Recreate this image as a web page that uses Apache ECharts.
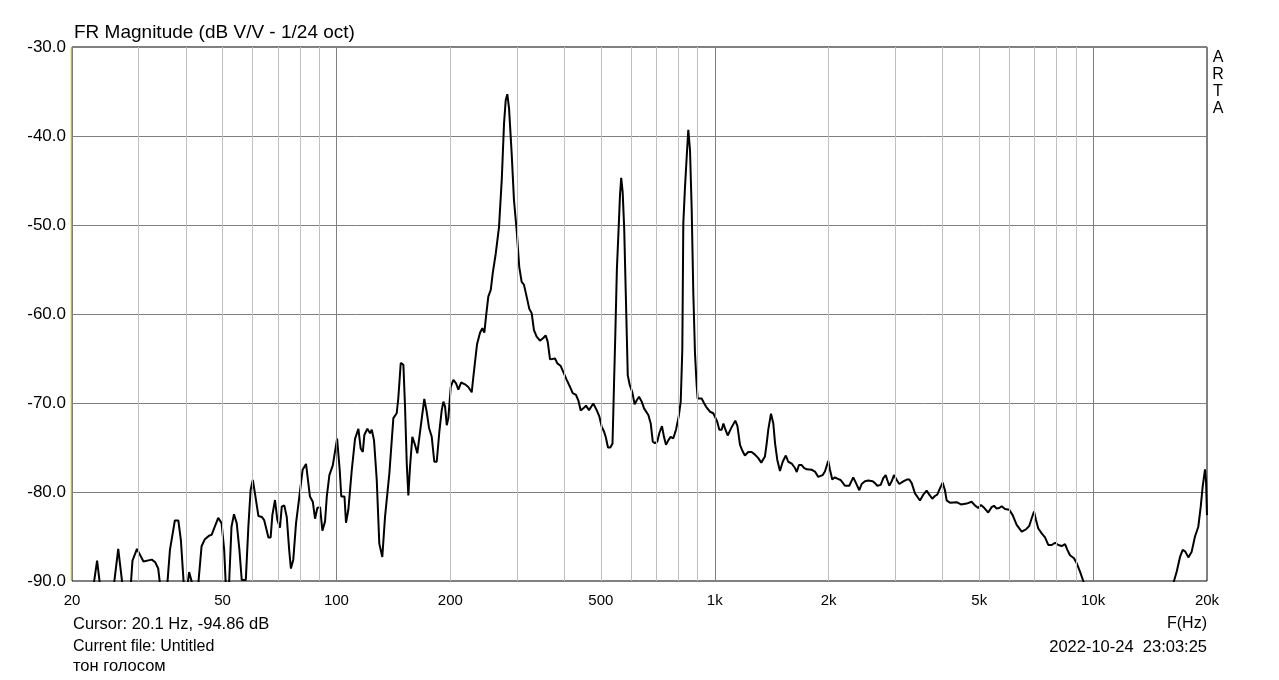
<!DOCTYPE html>
<html>
<head>
<meta charset="utf-8">
<script src="https://cdn.jsdelivr.net/npm/echarts@6/dist/echarts.min.js"></script>
<style>
html,body{margin:0;padding:0;background:#fff;}
#chart{width:1279px;height:680px;}
</style>
</head>
<body>
<div id="chart"></div>
<script>
// ---- data ----
const freqHz = [
20.0, 21.6, 22.8, 23.3, 23.8, 24.4, 25.8, 26.5, 27.2, 27.8, 28.6, 28.9, 29.7, 30.9, 32.5, 33.2, 33.8, 34.2, 35.0, 35.7,
36.3, 37.4, 38.2, 38.8, 39.5, 40.1, 40.8, 41.7, 42.5, 43.1, 44.0, 44.9, 46.1, 46.8, 48.7, 49.7, 50.5, 51.0, 51.4, 52.0,
52.8, 53.6, 54.5, 55.4, 56.2, 57.6, 58.5, 59.3, 60.1, 60.9, 62.2, 63.5, 64.4, 66.1, 67.0, 67.7, 68.8, 69.8, 70.9, 71.7,
72.8, 73.9, 75.0, 75.8, 76.9, 78.2, 79.8, 81.4, 83.1, 85.1, 86.6, 87.8, 89.0, 90.5, 91.8, 93.3, 94.3, 95.8, 97.8, 100.4,
102, 103, 105, 106, 107.5, 109.8, 112, 114.3, 115.9, 117.4, 118.5, 120.7, 122.7, 124, 125.7, 127.8, 129.8, 132.2, 134.4, 138,
141.4, 144.3, 145.7, 147.9, 150.3, 151.8, 153.4, 154.9, 156.5, 158.7, 161.3, 163.6, 167, 170.7, 173.2, 175.7, 178.6, 181.4, 184.1, 187.1,
189.8, 191.7, 193.7, 195.7, 197.6, 200.5, 203.7, 207.1, 210, 213.5, 218.7, 223.1, 227.8, 230.1, 232.4, 235.3, 239.6, 243, 246, 248.5,
252, 255.8, 258.9, 263.7, 269, 273.5, 277.3, 280.2, 282.9, 285.9, 290.5, 294.6, 299.5, 304.2, 308.7, 313, 318.2, 323.3, 328.1, 332.7,
338.2, 345.1, 352.1, 357.3, 361.7, 366.9, 378.2, 383.6, 391.6, 399.5, 406.1, 414.4, 421.2, 429.8, 435.8, 442.2, 449.3, 456.7, 465.1, 477.4,
487.4, 495.2, 502.4, 509.5, 514.8, 522.1, 529.5, 536.6, 539.2, 541.5, 545.8, 551.1, 557.5, 561.6, 565.8, 570.9, 576.2, 581.8, 588.9, 595.4,
605.5, 614, 622, 630.7, 641.2, 650.2, 667.4, 677.2, 685.6, 694.9, 704.7, 713.3, 725.1, 734, 743.1, 753.5, 764.5, 776.7, 789.8, 802.9,
812.8, 820.7, 825.7, 834.3, 843, 851.2, 860.1, 869, 877.6, 886.5, 895.6, 901.1, 923.3, 936.4, 947.8, 971.2, 990.9, 1001, 1015, 1028,
1043, 1054, 1067, 1082, 1104, 1133, 1148, 1166, 1184, 1201, 1226, 1252, 1277, 1303, 1327, 1357, 1372, 1385, 1408, 1428,
1443, 1463, 1487, 1512, 1541, 1564, 1597, 1629, 1647, 1669, 1697, 1721, 1749, 1803, 1840, 1877, 1928, 1955, 1995, 2016,
2044, 2078, 2107, 2151, 2178, 2208, 2267, 2323, 2362, 2410, 2445, 2494, 2546, 2615, 2651, 2689, 2745, 2789, 2830, 2857,
2892, 2935, 2976, 3026, 3074, 3150, 3216, 3267, 3315, 3382, 3486, 3557, 3631, 3689, 3757, 3819, 3873, 3937, 4002, 4059,
4101, 4184, 4358, 4474, 4631, 4774, 4871, 4970, 5052, 5145, 5282, 5392, 5468, 5558, 5647, 5732, 5849, 6004, 6129, 6280,
6475, 6645, 6781, 6881, 6979, 7064, 7164, 7314, 7462, 7613, 7774, 7932, 8093, 8262, 8430, 8549, 8688, 8902, 9049, 9233,
9420, 9800, 11070, 13290, 15490, 16360, 16630, 16970, 17250, 17530, 17850, 18220, 18590, 18970, 19250, 19480, 19760, 19880, 20000
];
const levelDb = [
-94.9, -97, -90.5, -87.7, -91, -95, -90.5, -86.4, -90.5, -94, -90.5, -87.7, -86.4, -87.8, -87.6, -87.9, -88.6, -90.5, -94, -90.5,
-86.5, -83.2, -83.2, -85.4, -90.5, -91.5, -89.0, -90.5, -93, -90.5, -86.1, -85.3, -84.9, -84.8, -82.9, -83.5, -86.5, -90.5, -93, -90.5,
-83.9, -82.5, -83.5, -86.5, -89.9, -89.9, -83.9, -79.8, -78.65, -80.15, -82.7, -82.8, -83.15, -85.1, -85.1, -82.6, -80.9, -83.15, -84.0, -81.65,
-81.5, -82.8, -86.5, -88.6, -87.6, -83.5, -80.5, -77.5, -76.85, -80.5, -81.1, -83.0, -81.8, -81.7, -84.35, -83.3, -80.5, -78.1, -77.0, -74.0,
-77.5, -80.5, -80.5, -83.45, -82.0, -77.5, -74.0, -72.9, -75.1, -75.5, -73.6, -72.9, -73.4, -73.0, -74.2, -78.65, -85.8, -87.3, -82.8, -77.9,
-71.7, -71.15, -69.5, -65.5, -65.7, -70.4, -76.8, -80.4, -77.15, -73.8, -74.7, -75.65, -72.65, -69.55, -71.0, -72.8, -73.8, -76.6, -76.6, -73.2,
-70.8, -69.85, -70.4, -72.5, -71.7, -68.2, -67.4, -67.8, -68.5, -67.7, -67.9, -68.2, -68.8, -67.05, -65.4, -63.4, -62.1, -61.6, -62.1, -60.3,
-58.05, -57.3, -55.4, -53.2, -50.2, -44.9, -38.6, -35.95, -35.3, -36.9, -41.95, -47.2, -50.6, -54.7, -56.4, -56.7, -58.05, -59.4, -59.9, -61.8,
-62.55, -63.0, -62.7, -62.4, -63.1, -65.1, -65.0, -65.55, -65.85, -66.7, -67.4, -68.2, -68.9, -69.1, -69.7, -70.85, -70.6, -70.3, -70.8, -70.05,
-70.8, -71.5, -72.65, -73.2, -73.8, -75.0, -75.0, -74.55, -71.15, -68.0, -62.4, -55.0, -50.0, -46.7, -44.7, -46.3, -50.4, -57.7, -66.9, -67.9,
-68.8, -70.15, -69.7, -69.3, -69.85, -70.6, -71.35, -72.3, -74.35, -74.5, -74.35, -73.4, -72.6, -73.8, -74.7, -74.2, -73.8, -73.97, -73.0, -71.5,
-69.85, -64.0, -49.8, -45.7, -42.3, -39.3, -41.6, -48.3, -57.7, -64.4, -68.0, -69.5, -69.5, -70.0, -70.4, -70.98, -71.15, -71.3, -72.1, -73.0,
-73.0, -72.3, -73.0, -73.65, -72.85, -71.98, -72.6, -74.7, -75.4, -75.9, -75.5, -75.5, -75.8, -76.2, -76.7, -76.0, -74.5, -73.0, -71.2, -72.3,
-74.5, -76.4, -77.65, -76.6, -75.9, -76.6, -76.8, -77.3, -77.75, -76.97, -76.97, -77.3, -77.45, -77.5, -77.7, -78.3, -78.1, -77.7, -76.5, -77.5,
-78.6, -78.35, -78.5, -78.65, -78.95, -79.3, -79.3, -78.35, -79.0, -79.8, -79.1, -78.8, -78.7, -78.8, -79.0, -79.3, -79.2, -78.45, -78.1, -78.65,
-79.3, -78.8, -78.1, -78.65, -79.1, -78.8, -78.6, -78.6, -79.0, -80.15, -80.95, -80.3, -79.85, -80.3, -80.75, -80.45, -80.3, -79.6, -78.95, -79.8,
-80.95, -81.2, -81.15, -81.4, -81.3, -81.1, -81.5, -81.8, -81.45, -81.75, -82.3, -81.7, -81.55, -81.85, -81.8, -81.6, -81.9, -82.0, -82.6, -83.7,
-84.45, -84.2, -83.8, -82.95, -82.2, -83.15, -84.1, -84.65, -85.1, -85.95, -85.95, -85.7, -85.95, -86.07, -85.85, -86.5, -87.1, -87.45, -88.0, -88.95,
-90.0, -92, -95, -97, -94, -90.0, -88.95, -87.3, -86.5, -86.7, -87.35, -86.7, -85.0, -83.9, -81.65, -79.4, -77.45, -78.65, -82.6
];
const xTickHz = [20, 50, 100, 200, 500, 1000, 2000, 5000, 10000, 20000];
const xTickLabels = ['20', '50', '100', '200', '500', '1k', '2k', '5k', '10k', '20k'];
const minorGridHz = [30, 40, 50, 60, 70, 80, 90, 200, 300, 400, 500, 600, 700, 800, 900,
  2000, 3000, 4000, 5000, 6000, 7000, 8000, 9000];
const majorGridHz = [100, 1000, 10000];

const titleText = 'FR Magnitude (dB V/V - 1/24 oct)';
const cursorText = 'Cursor: 20.1 Hz, -94.86 dB';
const fileText = 'Current file: Untitled';
const noteText = 'тон голосом';
const dateText = '2022-10-24  23:03:25';
const xAxisName = 'F(Hz)';
const brandText = 'A\nR\nT\nA';

// ---- chart ----
const FONT = 'Liberation Sans, Arial, sans-serif';
const curve = freqHz.map((f, i) => [f, levelDb[i]]);
const chart = echarts.init(document.getElementById('chart'), null, {renderer: 'canvas'});

function gridSeries(list, color) {
  return {
    type: 'line', data: [], silent: true, z: 1,
    markLine: {
      silent: true, symbol: ['none', 'none'], animation: false,
      label: {show: false},
      lineStyle: {color: color, type: 'solid', width: 1},
      emphasis: {disabled: true},
      data: list.map(v => ({xAxis: v}))
    }
  };
}

chart.setOption({
  animation: false,
  backgroundColor: '#ffffff',
  grid: {left: 72, top: 47, width: 1135, height: 534, show: true,
         borderColor: '#000000', borderWidth: 1, backgroundColor: '#ffffff'},
  xAxis: {
    type: 'log', logBase: 10, min: 20, max: 20000,
    axisLine: {show: false}, axisTick: {show: false},
    splitLine: {show: false}, minorSplitLine: {show: false},
    axisLabel: {
      customValues: xTickHz,
      showMinLabel: true, showMaxLabel: true, hideOverlap: false,
      margin: 12, color: '#000', fontFamily: FONT, fontSize: 15,
      formatter: function (v) {
        let best = 0, bd = Infinity;
        xTickHz.forEach((t, i) => { const d = Math.abs(Math.log(t) - Math.log(v)); if (d < bd) { bd = d; best = i; } });
        return xTickLabels[best];
      }
    }
  },
  yAxis: {
    type: 'value', min: -90, max: -30, interval: 10,
    axisLine: {show: false}, axisTick: {show: false},
    splitLine: {show: true, lineStyle: {color: '#808080', width: 1}},
    axisLabel: {
      margin: 6, color: '#000', fontFamily: FONT, fontSize: 17,
      formatter: v => v.toFixed(1)
    }
  },
  series: [
    gridSeries(minorGridHz, '#c0c0c0'),
    gridSeries(majorGridHz, '#808080'),
    {
      type: 'line', data: curve, z: 3, showSymbol: false, symbol: 'none',
      clip: true, smooth: false,
      lineStyle: {color: '#000000', width: 2},
      emphasis: {disabled: true}
    }
  ],
  graphic: [
    {type: 'line', z: 50, shape: {x1: 71, y1: 47, x2: 71, y2: 581}, style: {stroke: '#e0e060', lineWidth: 1}},
    {type: 'text', z: 50, x: 74, y: 33, style: {text: titleText, font: '19px ' + FONT, fill: '#000', textVerticalAlign: 'middle'}},
    {type: 'text', z: 50, x: 1218, y: 83, style: {text: brandText, font: '16px ' + FONT, fill: '#000', textAlign: 'center', textVerticalAlign: 'middle', lineHeight: 17}},
    {type: 'text', z: 50, x: 73, y: 624, style: {text: cursorText, font: '16.5px ' + FONT, fill: '#000', textVerticalAlign: 'middle'}},
    {type: 'text', z: 50, x: 73, y: 647, style: {text: fileText, font: '16px ' + FONT, fill: '#000', textVerticalAlign: 'middle'}},
    {type: 'text', z: 50, x: 73, y: 666, style: {text: noteText, font: '16.5px ' + FONT, fill: '#000', textVerticalAlign: 'middle'}},
    {type: 'text', z: 50, x: 1207, y: 624, style: {text: xAxisName, font: '16px ' + FONT, fill: '#000', textAlign: 'right', textVerticalAlign: 'middle'}},
    {type: 'text', z: 50, x: 1207, y: 647, style: {text: dateText, font: '16.5px ' + FONT, fill: '#000', textAlign: 'right', textVerticalAlign: 'middle'}}
  ]
});
</script>
</body>
</html>
